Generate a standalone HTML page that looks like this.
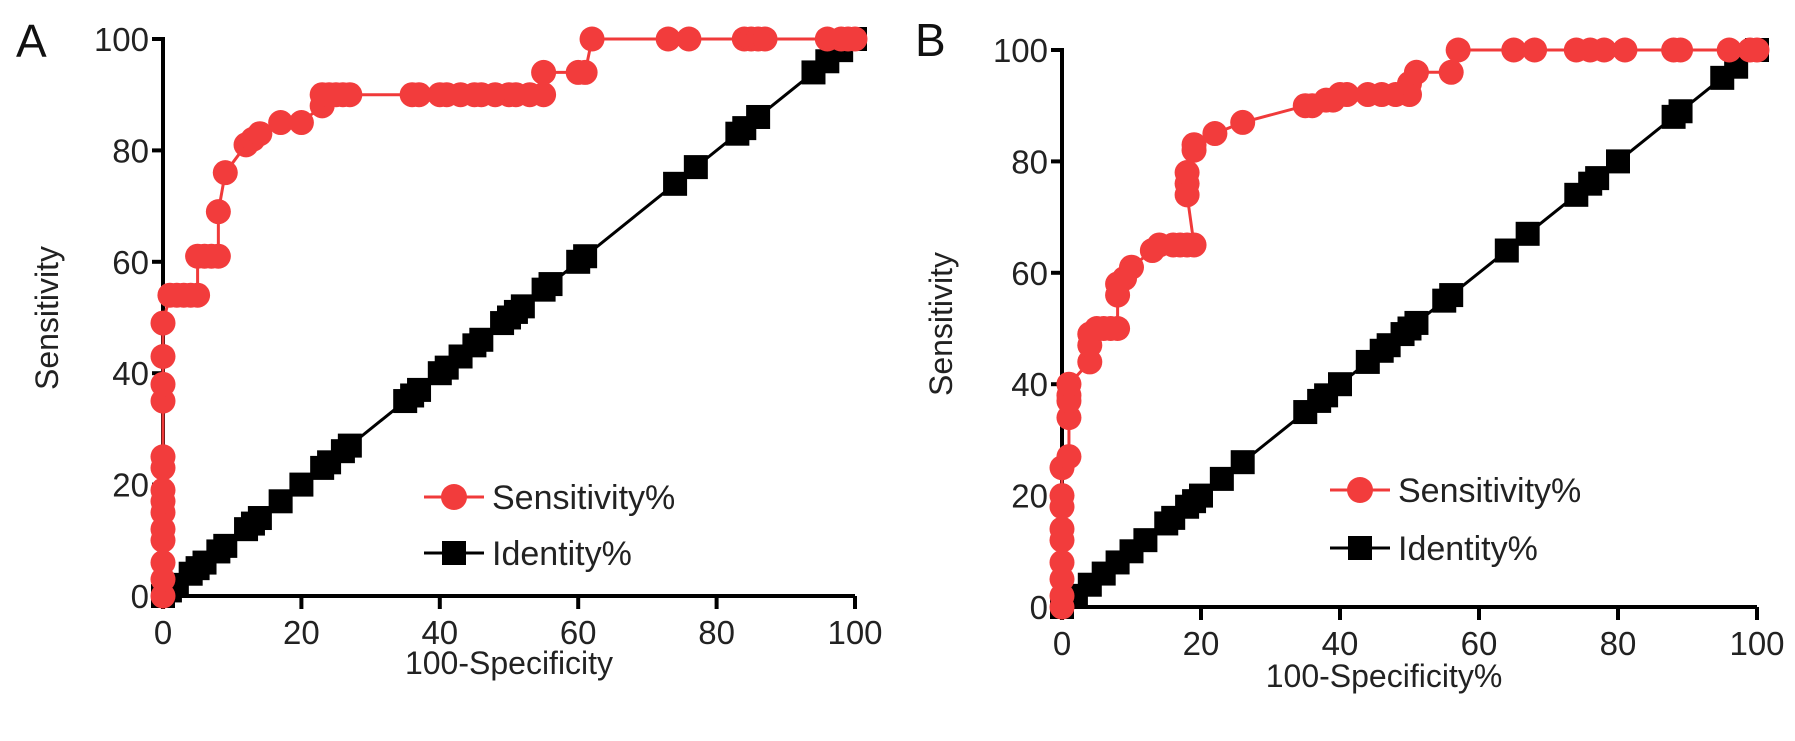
<!DOCTYPE html>
<html><head><meta charset="utf-8">
<style>
html,body{margin:0;padding:0;background:#fff;}
svg{display:block;font-family:"Liberation Sans",Arial,sans-serif;}
</style></head>
<body>
<svg id="chart" width="1795" height="741" viewBox="0 0 1795 741" xmlns="http://www.w3.org/2000/svg"></svg>
<script>
const ticks = [0,20,40,60,80,100];
const tickLabels = ["0","20","40","60","80","100"];
const sensAX = [0,0,0,0,0,0,0,0,0,0,0,0,0,0,1,2,3,4,5,5,6,7,8,8,9,12,13,14,17,20,23,23,24,25,26,27,36,37,40,41,43,45,46,48,50,51,53,55,55,60,61,62,73,76,84,85,86,87,96,98,99,100];
const sensAY = [0,3,6,10,12,15,17,19,23,25,35,38,43,49,54,54,54,54,54,61,61,61,61,69,76,81,82,83,85,85,88,90,90,90,90,90,90,90,90,90,90,90,90,90,90,90,90,90,94,94,94,100,100,100,100,100,100,100,100,100,100,100];
const identA = [0,1,2,4,5,6,8,9,12,13,14,17,20,23,24,26,27,35,36,37,40,41,43,45,46,49,50,51,52,55,56,60,61,74,77,83,84,86,94,96,98,100];
const sensBX = [0,0,0,0,0,0,0,0,0,1,1,1,1,1,4,4,4,5,6,7,8,8,8,9,10,13,14,16,17,18,19,18,18,18,19,19,22,26,35,36,38,39,40,41,44,46,48,50,50,51,56,57,65,68,74,76,78,81,88,89,96,99,100];
const sensBY = [0,2,5,8,12,14,18,20,25,27,34,37,38,40,44,47,49,50,50,50,50,56,58,59,61,64,65,65,65,65,65,74,76,78,82,83,85,87,90,90,91,91,92,92,92,92,92,92,94,96,96,100,100,100,100,100,100,100,100,100,100,100,100];
const identB = [0,2,4,6,8,10,12,15,16,18,19,20,23,26,35,37,38,40,44,46,47,49,50,51,55,56,64,67,74,76,77,80,88,89,95,97,100];

const NS="http://www.w3.org/2000/svg";
const svg=document.getElementById('chart');
function mk(tag,attrs,parent){const e=document.createElementNS(NS,tag);for(const k in attrs)e.setAttribute(k,attrs[k]);(parent||svg).appendChild(e);return e;}

function panel(p){
  const g=mk('g',{});
  
  
  const sx=v=>p.x0+(p.x1-p.x0)*v/100;
  const sy=v=>p.y0-(p.y0-p.y1)*v/100;
  const lab=mk('text',{x:p.labX,y:p.labY,'font-size':46,fill:'#111'},g);lab.textContent=p.letter;
  
  
  const ya=mk('path',{d:`M${p.x0-11},${sy(100)} H${p.x0} V${p.y0}`,stroke:'#000','stroke-width':4,fill:'none'},g);
  
  
  const xa=mk('path',{d:`M${p.x0},${p.y0} H${sx(100)}`,stroke:'#000','stroke-width':4,fill:'none'},g);
  
  
  ticks.forEach((t,i)=>{
    mk('line',{x1:p.x0-11,x2:p.x0,y1:sy(t),y2:sy(t),stroke:'#000','stroke-width':4},g);
    const yl=mk('text',{x:p.x0-14,y:sy(t)+12,'font-size':33,'text-anchor':'end',fill:'#222'},g);yl.textContent=tickLabels[i];
    
    
    mk('line',{x1:sx(t),x2:sx(t),y1:p.y0,y2:p.y0+13,stroke:'#000','stroke-width':4},g);
    const xl=mk('text',{x:sx(t),y:p.y0+48,'font-size':33,'text-anchor':'middle',fill:'#222'},g);xl.textContent=tickLabels[i];
    
    
  });
  const yt=mk('text',{x:0,y:0,'font-size':32,'text-anchor':'middle',fill:'#222',transform:`translate(${p.ytX},${p.ytY}) rotate(-90)`},g);yt.textContent='Sensitivity';
  
  
  const xt=mk('text',{x:p.xtX,y:p.xtY,'font-size':32,'text-anchor':'middle',fill:'#222'},g);xt.textContent=p.xTitle;
  
  
  const idl=mk('polyline',{points:p.ident.map(v=>sx(v)+','+sy(v)).join(' '),stroke:'#000','stroke-width':3,fill:'none'},g);
  
  
  p.ident.forEach(v=>{
    const r=mk('rect',{x:sx(v)-12,y:sy(v)-12,width:24,height:24,fill:'#000'},g);
    
    
  });
  const sl=mk('polyline',{points:p.sx.map((v,i)=>sx(v)+','+sy(p.sy[i])).join(' '),stroke:'#f03a3a','stroke-width':3,fill:'none'},g);
  
  
  p.sx.forEach((v,i)=>{
    const c=mk('circle',{cx:sx(v),cy:sy(p.sy[i]),r:12.5,fill:'#f23c3c'},g);
    
    
  });
  const l1=mk('g',{},g);
  
  
  mk('line',{x1:p.lgX-30,x2:p.lgX+30,y1:p.lgY,y2:p.lgY,stroke:'#f03a3a','stroke-width':3},l1);
  mk('circle',{cx:p.lgX,cy:p.lgY,r:13,fill:'#f23c3c'},l1);
  const t1=mk('text',{x:p.lgX+38,y:p.lgY+12,'font-size':34,fill:'#222'},l1);t1.textContent='Sensitivity%';
  const l2=mk('g',{},g);
  
  
  mk('line',{x1:p.lgX-30,x2:p.lgX+30,y1:p.lgY+p.lgGap,y2:p.lgY+p.lgGap,stroke:'#000','stroke-width':3},l2);
  mk('rect',{x:p.lgX-12,y:p.lgY+p.lgGap-12,width:24,height:24,fill:'#000'},l2);
  const t2=mk('text',{x:p.lgX+38,y:p.lgY+p.lgGap+12,'font-size':34,fill:'#222'},l2);t2.textContent='Identity%';
}

panel({id:'panel-a',letter:'A',labX:16,labY:57,x0:163,x1:855,y0:596,y1:39,ytX:58,ytY:318,xtX:509,xtY:674,xTitle:'100-Specificity',
  sx:sensAX,sy:sensAY,ident:identA,lgX:454,lgY:497,lgGap:56});
panel({id:'panel-b',letter:'B',labX:915,labY:56,x0:1062,x1:1757,y0:607,y1:50,ytX:952,ytY:324,xtX:1384,xtY:687,xTitle:'100-Specificity%',
  sx:sensBX,sy:sensBY,ident:identB,lgX:1360,lgY:490,lgGap:58});
</script>
</body></html>
